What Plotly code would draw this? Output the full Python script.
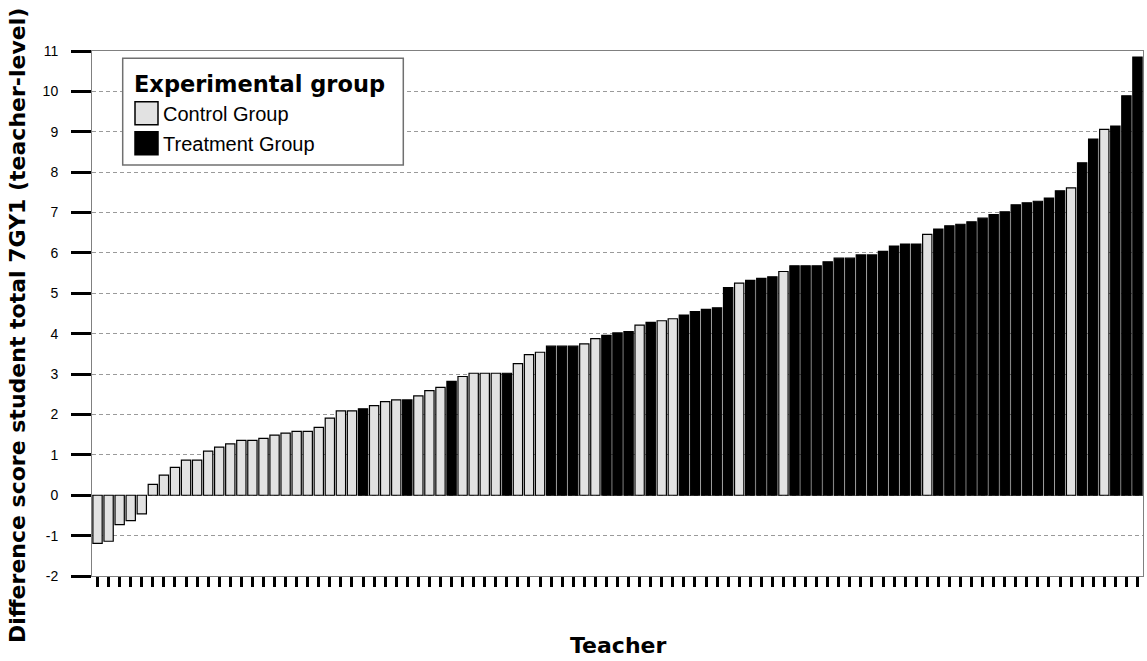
import plotly.graph_objects as go

# Teacher-level difference scores, sorted ascending, with each teacher's group
teacher = list(range(1, 96))
score = [
    -1.19, -1.14, -0.73, -0.63, -0.46, 0.27, 0.50, 0.69, 0.87, 0.87,
    1.09, 1.19, 1.27, 1.36, 1.36, 1.41, 1.49, 1.54, 1.58, 1.58,
    1.68, 1.91, 2.09, 2.09, 2.14, 2.22, 2.32, 2.36, 2.36, 2.46,
    2.59, 2.67, 2.82, 2.94, 3.02, 3.02, 3.02, 3.02, 3.26, 3.48,
    3.54, 3.69, 3.69, 3.69, 3.75, 3.88, 3.96, 4.02, 4.05, 4.21,
    4.28, 4.32, 4.37, 4.46, 4.55, 4.60, 4.64, 5.14, 5.25, 5.32,
    5.37, 5.41, 5.54, 5.68, 5.68, 5.68, 5.78, 5.87, 5.87, 5.95,
    5.95, 6.04, 6.17, 6.22, 6.22, 6.46, 6.59, 6.67, 6.71, 6.77,
    6.86, 6.95, 7.02, 7.19, 7.24, 7.28, 7.36, 7.54, 7.61, 8.23,
    8.82, 9.06, 9.14, 9.89, 10.85,
]
C, T = "Control Group", "Treatment Group"
group = (
    [C] * 24 + [T] + [C] * 3 + [T] + [C] * 3 + [T] + [C] * 4 + [T]
    + [C] * 3 + [T] * 3 + [C] * 2 + [T] * 3 + [C] + [T] + [C] * 2
    + [T] * 5 + [C] + [T] * 3 + [C] + [T] * 12 + [C] + [T] * 12
    + [C] + [T] * 2 + [C] + [T] * 3
)
group_names = [C, T]
group_fill = {C: "#e2e2e2", T: "#000000"}
y_ticks = list(range(-2, 12))
y_tick_text = [str(v) for v in y_ticks]

# canvas and plot-area geometry (pixels)
FIG_W, FIG_H = 1147, 661
ML, MR, MT, MB = 92, 4, 51, 85
PW, PH = FIG_W - ML - MR, FIG_H - MT - MB


def px_x(x):
    return (x - ML) / PW


def px_y(y):
    return (FIG_H - MB - y) / PH


fig = go.Figure()
for g in group_names:
    xs = [t for t, gg in zip(teacher, group) if gg == g]
    ys = [s for s, gg in zip(score, group) if gg == g]
    fig.add_trace(go.Bar(
        x=xs, y=ys, name=g, width=0.84,
        marker=dict(color=group_fill[g], line=dict(color="#000000", width=1.2)),
        showlegend=False,
    ))

fig.update_layout(
    width=FIG_W, height=FIG_H,
    margin=dict(l=ML, r=MR, t=MT, b=MB, pad=0),
    paper_bgcolor="white", plot_bgcolor="white",
    barmode="overlay",
    font=dict(family="Liberation Sans, Arial, sans-serif", color="#000000"),
    xaxis=dict(
        range=[0.5, len(teacher) + 0.5],
        tickmode="array", tickvals=teacher, showticklabels=False,
        ticks="outside", ticklen=10, tickwidth=3, tickcolor="#000000",
        showline=True, linecolor="#808080", linewidth=1, mirror=True,
        showgrid=False, zeroline=False,
    ),
    yaxis=dict(
        range=[-2, 11],
        tickmode="array", tickvals=y_ticks, ticktext=y_tick_text,
        ticks="outside", ticklen=20, tickwidth=3, tickcolor="#000000",
        ticklabelstandoff=10,
        tickfont=dict(size=14, family="Liberation Sans, Arial, sans-serif"),
        showline=True, linecolor="#808080", linewidth=1, mirror=True,
        showgrid=True, gridcolor="#9a9a9a", gridwidth=1, griddash="4px,3px",
        zeroline=False,
    ),
)

# axis titles
fig.add_annotation(
    text="Difference score student total 7GY1 (teacher-level)",
    xref="paper", yref="paper", x=px_x(17), y=px_y(326),
    textangle=-90, showarrow=False, xanchor="center", yanchor="middle",
    font=dict(family="DejaVu Sans", size=22, color="#000000", weight="bold"),
)
fig.add_annotation(
    text="Teacher",
    xref="paper", yref="paper", x=0.5, y=px_y(645),
    showarrow=False, xanchor="center", yanchor="middle",
    font=dict(family="DejaVu Sans", size=22, color="#000000", weight="bold"),
)

# legend box
fig.add_shape(
    type="rect", xref="paper", yref="paper",
    x0=px_x(122.7), x1=px_x(403.3), y0=px_y(58.3), y1=px_y(165),
    line=dict(color="#707070", width=1.5), fillcolor="white", layer="above",
)
fig.add_annotation(
    text="Experimental group",
    xref="paper", yref="paper", x=px_x(132), y=px_y(84),
    showarrow=False, xanchor="left", yanchor="middle",
    font=dict(family="DejaVu Sans", size=22.5, color="#000000", weight="bold"),
)
for i, g in enumerate(group_names):
    top = 101.7 + 30 * i
    fig.add_shape(
        type="rect", xref="paper", yref="paper",
        x0=px_x(135), x1=px_x(158), y0=px_y(top), y1=px_y(top + 23),
        line=dict(color="#000000", width=1.5), fillcolor=group_fill[g], layer="above",
    )
    fig.add_annotation(
        text=g, xref="paper", yref="paper", x=px_x(161), y=px_y(top + 12),
        showarrow=False, xanchor="left", yanchor="middle",
        font=dict(family="Liberation Sans, Arial, sans-serif", size=20, color="#000000"),
    )

fig.write_html("out.html")
